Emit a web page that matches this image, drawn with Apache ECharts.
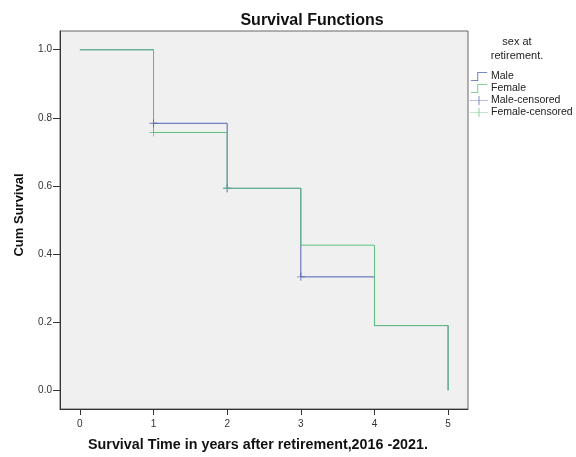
<!DOCTYPE html>
<html><head><meta charset="utf-8">
<script src="https://cdn.jsdelivr.net/npm/echarts@6/dist/echarts.min.js"></script>
<style>html,body{margin:0;padding:0;background:#fff}#c{width:576px;height:457px}</style>
</head><body><div id="c"></div>
<script>
const xTicks = [0, 1, 2, 3, 4, 5];
const yTicks = [0.0, 0.2, 0.4, 0.6, 0.8, 1.0];
const times = [0, 1, 2, 3, 4, 5];
const maleSurv = [1.0, 0.784, 0.593, 0.333, 0.19, 0.0];
const femaleSurv = [1.0, 0.757, 0.593, 0.426, 0.19, 0.0];
const maleCensTimes = [1, 2, 3];
const maleCensSurv = [0.784, 0.593, 0.333];
const femaleCensTimes = [1, 2];
const femaleCensSurv = [0.757, 0.593];

const MALE = '#4f62b0', FEMALE = '#5fc281';
const plus = 'path://M4.4,0 L5.6,0 L5.6,4.4 L10,4.4 L10,5.6 L5.6,5.6 L5.6,10 L4.4,10 L4.4,5.6 L0,5.6 L0,4.4 L4.4,4.4 Z';
const stepIcon = 'path://M0,10 L8,10 L8,0 L20,0 L20,1 L9,1 L9,11 L0,11 Z';
const crossIcon = 'path://M0,4.6 L20,4.6 L20,5.4 L0,5.4 Z M9.5,0 L10.5,0 L10.5,10 L9.5,10 Z';
const font = 'Liberation Sans, Arial, sans-serif';

const chart = echarts.init(document.getElementById('c'));
chart.setOption({
  animation: false,
  backgroundColor: '#fff',
  title: {
    text: 'Survival Functions', left: 307, top: 8, textAlign: 'center',
    textStyle: {fontFamily: font, fontSize: 16, fontWeight: 'bold', color: '#111'}
  },
  grid: {left: 60, top: 31, width: 408, height: 381, show: true,
         backgroundColor: '#f0f0f0', borderColor: '#666', borderWidth: 1},
  xAxis: {
    type: 'value', min: -0.27, max: 5.27,
    name: 'Survival Time in years after retirement,2016 -2021.',
    nameLocation: 'middle', nameGap: 29,
    nameTextStyle: {fontFamily: font, fontSize: 14.3, fontWeight: 'bold', color: '#111',
                    padding: [0, 12, 0, 0]},
    axisLine: {show: true, onZero: false, lineStyle: {color: '#333'}},
    axisTick: {show: true, inside: false, length: 6, lineStyle: {color: '#333'}, customValues: xTicks},
    axisLabel: {fontFamily: font, fontSize: 10, color: '#333', margin: 10, customValues: xTicks,
                formatter: v => String(v)},
    splitLine: {show: false}
  },
  yAxis: {
    type: 'value', min: -0.055, max: 1.055,
    name: 'Cum Survival', nameLocation: 'middle', nameGap: 34,
    nameTextStyle: {fontFamily: font, fontSize: 13, fontWeight: 'bold', color: '#111',
                    padding: [0, 0, 0, 10]},
    axisLine: {show: true, onZero: false, lineStyle: {color: '#333'}},
    axisTick: {show: true, inside: false, length: 7, lineStyle: {color: '#333'}, customValues: yTicks},
    axisLabel: {fontFamily: font, fontSize: 10, color: '#333', margin: 8, customValues: yTicks,
                formatter: v => v.toFixed(1)},
    splitLine: {show: false}
  },
  legend: {
    orient: 'vertical', left: 470, top: 71, itemGap: 1, itemWidth: 20, itemHeight: 9,
    padding: 0,
    textStyle: {fontFamily: font, fontSize: 10.5, color: '#222', padding: [0, 0, 0, -3]},
    data: [
      {name: 'Male', icon: stepIcon, itemStyle: {color: MALE}},
      {name: 'Female', icon: stepIcon, itemStyle: {color: FEMALE}},
      {name: 'Male-censored', icon: crossIcon, itemStyle: {color: MALE}},
      {name: 'Female-censored', icon: crossIcon, itemStyle: {color: FEMALE}}
    ]
  },
  graphic: [{
    type: 'text', x: 517, y: 35,
    style: {text: 'sex at\nretirement.', fontFamily: font, fontSize: 11, fill: '#222',
            align: 'center', lineHeight: 14}
  }],
  series: [
    {name: 'Male', type: 'line', step: 'end', showSymbol: false, z: 3,
     lineStyle: {color: MALE, width: 1}, itemStyle: {color: MALE},
     data: times.map((t, i) => [t, maleSurv[i]])},
    {name: 'Female', type: 'line', step: 'end', showSymbol: false, z: 4,
     lineStyle: {color: FEMALE, width: 1}, itemStyle: {color: FEMALE},
     data: times.map((t, i) => [t, femaleSurv[i]])},
    {name: 'Male-censored', type: 'scatter', symbol: plus, symbolSize: 8, z: 5,
     itemStyle: {color: MALE},
     data: maleCensTimes.map((t, i) => [t, maleCensSurv[i]])},
    {name: 'Female-censored', type: 'scatter', symbol: plus, symbolSize: 8, z: 6,
     itemStyle: {color: FEMALE},
     data: femaleCensTimes.map((t, i) => [t, femaleCensSurv[i]])}
  ]
});
</script></body></html>
